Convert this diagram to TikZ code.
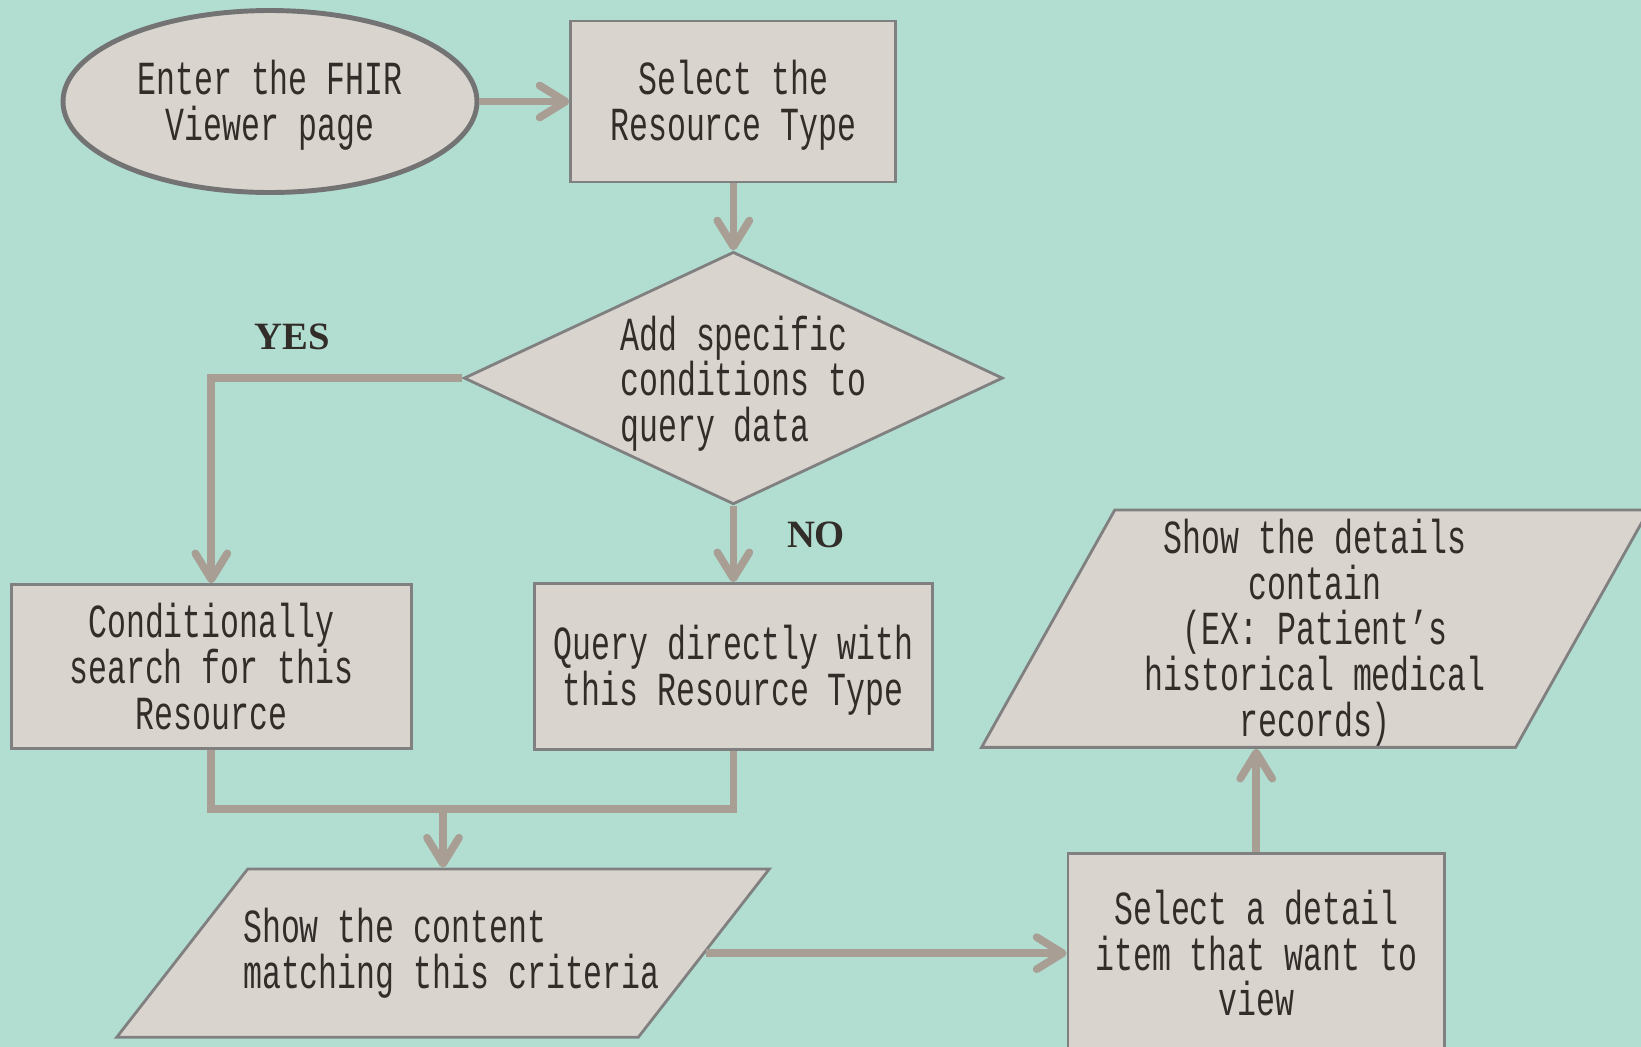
\documentclass[tikz,border=0pt]{standalone}
\usepackage{fontspec}
\usetikzlibrary{arrows.meta, positioning, shapes.geometric}
\newfontfamily\flowfont{Liberation Mono}[FakeStretch=0.665]
\newfontfamily\yesnofont{Liberation Serif}
\definecolor{bgmint}{RGB}{178,222,210}
\definecolor{boxfill}{RGB}{217,212,206}
\definecolor{boxline}{RGB}{128,128,128}
\definecolor{flowline}{RGB}{168,158,148}
\definecolor{inkgray}{RGB}{50,45,40}

\begin{document}
\begin{tikzpicture}[
    box/.style={draw=boxline, line width=0.8pt, fill=boxfill, rectangle, align=center, text=inkgray, inner sep=2pt, font=\flowfont\fontsize{13.5}{13}\selectfont},
    startend/.style={box, ellipse, line width=1.4pt, draw=boxline!90!black},
    decision/.style={box, diamond, aspect=2.13, inner sep=-0.1cm, align=left},
    io/.style={box, trapezium},
    answer/.style={text=inkgray, font=\yesnofont\bfseries\fontsize{11}{13}\selectfont},
    arrow/.style={-{Straight Barb[length=2.6mm, width=3.2mm, round]}, line width=2.2pt, draw=flowline},
    link/.style={line width=2.2pt, draw=flowline}
]

\fill[bgmint] (0,0) rectangle (16.41,-10.47);
\useasboundingbox (0,0) rectangle (16.41,-10.47);

% Nodes
\node[startend, minimum width=4.14cm, minimum height=1.82cm] (enter) at (2.70,-1.015) {\rule{0pt}{12pt}Enter the FHIR\\Viewer page};
\node[box, minimum width=3.25cm, minimum height=1.61cm, right=0.90cm of enter] (restype) {\rule{0pt}{12pt}Select the\\Resource Type};
\node[decision, minimum width=5.39cm, minimum height=2.525cm, below=0.67cm of restype] (conds) {\rule{0pt}{13pt}\hspace*{2mm}Add specific\\\hspace*{2mm}conditions to\\\hspace*{2mm}query data};
\node[box, minimum width=3.985cm, minimum height=1.66cm, below=0.765cm of conds] (direct) {\rule{0pt}{12pt}Query directly with\\this Resource Type};
\node[box, minimum width=4.0cm, minimum height=1.64cm, left=1.20cm of direct] (search) {Conditionally\\search for this\\Resource};
\coordinate (merge) at (4.43,-8.09);
\node[io, align=left, inner xsep=-0.215cm, inner ysep=0.392cm, trapezium left angle=52.1, trapezium right angle=127.9, below=0.586cm of merge] (content) {\hspace*{1.7mm}Show the content\\\hspace*{1.7mm}matching this criteria};
\node[box, minimum width=3.765cm, minimum height=2.0cm, right=3.61cm of content] (pick) {Select a detail\\item that want to\\view};
\node[io, inner xsep=0.30cm, inner ysep=0.013cm, trapezium left angle=60.7, trapezium right angle=119.3, above=1.03cm of pick, xshift=0.59cm] (details) {\rule{0pt}{12pt}Show the details\\contain\\(EX: Patient’s\\historical medical\\records)};

\node[answer] (yes) at (2.92,-3.37) {YES};
\node[answer] (no) at (8.16,-5.35) {NO};

% Arrows
\draw[arrow] (enter) -- (restype);
\draw[arrow] (restype) -- (conds);
\draw[arrow] (conds.west) -| (search.north);
\draw[arrow] (conds) -- (direct);
\draw[link] (search.south) |- (merge) -| (direct.south);
\draw[arrow] (merge) -- (merge |- content.north);
\draw[arrow] (content.east) -- (content.east -| pick.west);
\draw[arrow] (pick.north) -- (pick.north |- details.south);

\end{tikzpicture}
\end{document}
